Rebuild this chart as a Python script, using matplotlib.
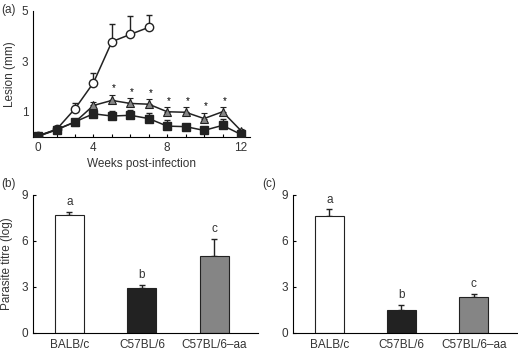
import numpy as np
import matplotlib
matplotlib.use('Agg')
import matplotlib.pyplot as plt

plt.rcParams['font.family'] = ['Liberation Sans', 'DejaVu Sans']
plt.rcParams['font.size'] = 8.5

# panel (a): lesion size over time, samples at weekly intervals
weeks = np.arange(1, 13)
balb = [0.05, 0.3, 1.12, 2.15, 3.78, 4.07, 4.35]
balb_err = [0.0, 0.05, 0.24, 0.4, 0.7, 0.73, 0.49]
b6 = [0.03, 0.28, 0.6, 0.92, 0.83, 0.86, 0.73, 0.43, 0.41, 0.26, 0.46, 0.1]
b6_err = [0.0, 0.04, 0.08, 0.15, 0.2, 0.22, 0.22, 0.25, 0.09, 0.05, 0.24, 0.03]
aa = [0.03, 0.3, 0.59, 1.25, 1.45, 1.33, 1.3, 1.0, 0.98, 0.73, 1.0, 0.25]
aa_err = [0.0, 0.04, 0.1, 0.15, 0.23, 0.2, 0.2, 0.18, 0.2, 0.23, 0.18, 0.05]
star_idx = [4, 5, 6, 7, 8, 9, 10]
xtick_pos = [1, 4, 8, 12]
xtick_lab = ['0', '4', '8', '12']

# panels (b) and (c): parasite titre
strains = ['BALB/c', 'C57BL/6', 'C57BL/6\u2013aa']
titre_b = [7.7, 2.9, 5.0]
titre_b_err = [0.2, 0.2, 1.1]
titre_c = [7.65, 1.45, 2.3]
titre_c_err = [0.4, 0.35, 0.25]
letters = ['a', 'b', 'c']
bar_cols = ['white', '#222222', '#858585']

dark = '#222222'
txt = '#333333'
fig = plt.figure(figsize=(5.18, 3.53), dpi=100)

ax = fig.add_axes([0.064, 0.612, 0.419, 0.357])
ax.errorbar(weeks[:len(balb)], balb, yerr=[np.zeros(len(balb)), balb_err], color=dark, lw=1.1,
            marker='o', ms=6, mfc='white', mec=dark, mew=1, capsize=2, elinewidth=1, zorder=3)
ax.errorbar(weeks, aa, yerr=[np.zeros(12), aa_err], color=dark, lw=1.1,
            marker='^', ms=6, mfc='#858585', mec=dark, mew=0.8, capsize=2, elinewidth=1, zorder=4)
ax.errorbar(weeks, b6, yerr=[np.zeros(12), b6_err], color=dark, lw=1.1,
            marker='s', ms=5.5, mfc=dark, mec=dark, capsize=2, elinewidth=1, zorder=5)
for i in star_idx:
    ax.text(weeks[i] + 0.1, aa[i] + aa_err[i] + 0.05, '*', ha='center', va='bottom', fontsize=7)
ax.set_xlim(0.73, 12.5)
ax.set_ylim(0, 5)
ax.set_yticks([1, 3, 5])
ax.set_xticks(xtick_pos)
ax.set_xticklabels(xtick_lab)
ax.set_xticks(weeks, minor=True)
ax.tick_params(which='both', direction='in', length=2, width=0.8, labelcolor=txt)
ax.tick_params(axis='y', length=0)
ax.spines['top'].set_visible(False)
ax.spines['right'].set_visible(False)
ax.set_xlabel('Weeks post-infection', labelpad=3, color=txt)
ax.set_ylabel('Lesion (mm)', labelpad=4, color=txt)
fig.text(0.003, 0.99, '(a)', va='top', color=txt)

x = np.arange(3)
for k, (vals, errs, left) in enumerate([(titre_b, titre_b_err, 0.064), (titre_c, titre_c_err, 0.566)]):
    bx = fig.add_axes([left, 0.058, 0.434 if k == 0 else 0.432, 0.39])
    bx.bar(x, vals, width=0.4, color=bar_cols, edgecolor=dark, linewidth=0.8, zorder=2)
    bx.errorbar(x, vals, yerr=[np.zeros(3), errs], fmt='none', ecolor=dark, elinewidth=1,
                capsize=2, zorder=1)
    for xi, v, e, l in zip(x, vals, errs, letters):
        bx.text(xi, v + e + 0.25, l, ha='center', va='bottom', color=txt)
    bx.set_xlim(-0.5, 2.6)
    bx.set_ylim(0, 9)
    bx.set_yticks([0, 3, 6, 9])
    bx.set_xticks(x)
    bx.set_xticklabels(strains)
    bx.tick_params(axis='x', length=0, pad=5, labelcolor=txt)
    bx.tick_params(axis='y', direction='in', length=2, width=0.8, labelcolor=txt)
    bx.spines['top'].set_visible(False)
    bx.spines['right'].set_visible(False)
    if k == 0:
        bx.set_ylabel('Parasite titre (log)', labelpad=6, color=txt)

fig.text(0.003, 0.495, '(b)', va='top', color=txt)
fig.text(0.506, 0.495, '(c)', va='top', color=txt)

fig.savefig('out.png', dpi=100)
